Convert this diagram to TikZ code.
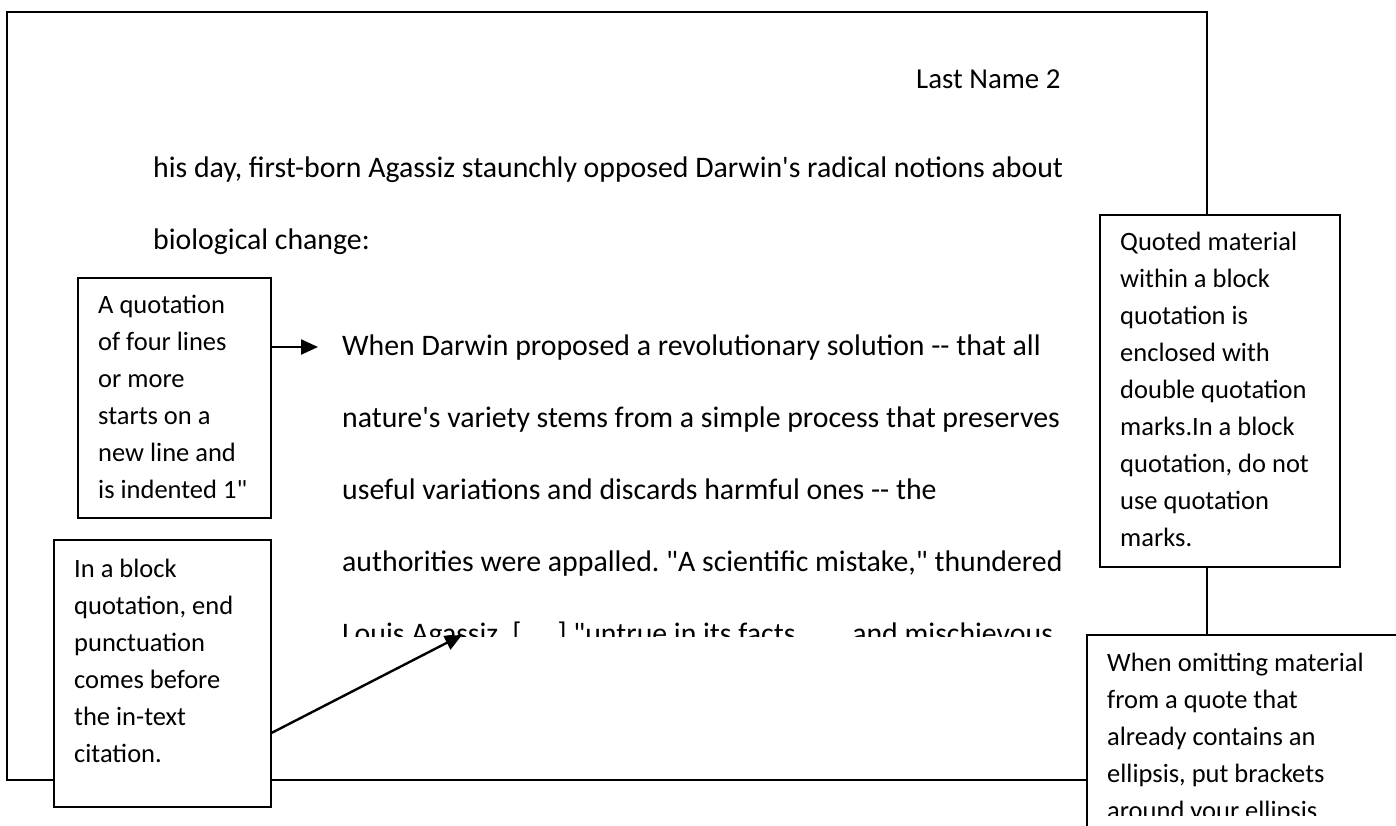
\documentclass[tikz,border=0pt]{standalone}
\usepackage{fontspec}
\setmainfont{Carlito}[Ligatures=TeXOff]
\usetikzlibrary{arrows.meta,positioning}
\frenchspacing

\newcommand{\headsize}{\fontsize{28.9pt}{72pt}\selectfont}
\newcommand{\bodysize}{\fontsize{29.8pt}{72pt}\selectfont}
\newcommand{\notesize}{\fontsize{26.5pt}{37pt}\selectfont}

\tikzset{
  sheet/.style={draw, line width=2pt, anchor=north west, inner sep=0pt},
  notebox/.style={draw, fill=white, line width=1.8pt, anchor=north west, inner sep=0pt},
  notetext/.style={anchor=base west, inner sep=0pt, font=\notesize},
  bodytext/.style={anchor=base west, inner sep=0pt, font=\bodysize},
  pointer/.style={-{Triangle[length=17pt,width=15pt]}, line width=2.4pt}
}

\begin{document}
\begin{tikzpicture}[x=1pt, y=-1pt]
		\useasboundingbox (0,0) rectangle (1396,825);
		\clip (0,0) rectangle (1396,825);

		% Define nodes
		\node[sheet, minimum width=1200pt, minimum height=768pt] (page) at (6,11) {};
		\node[bodytext, font=\headsize] (header) at (916,88) {Last Name 2};
		\node[bodytext] (intro) at (153,177) {\parbox[t]{1000pt}{%
			his day, first-born Agassiz staunchly opposed Darwin's radical notions about\\
			biological change:}};
		\begin{scope}
			\clip (0,0) rectangle (1396,636);
			\node[bodytext] (quote) at (342,355) {\parbox[t]{1000pt}{%
				When Darwin proposed a revolutionary solution -{}- that all\\
				nature's variety stems from a simple process that preserves\\
				useful variations and discards harmful ones -{}- the\\
				authorities were appalled. "A scientific mistake," thundered\\
				Louis Agassiz, [. . .] "untrue in its facts, . . . and mischievous}};
		\end{scope}

		\node[notebox, minimum width=193pt, minimum height=240pt] (indent) at (77,277) {};
		\node[notetext] (indenttxt) at ([xshift=21pt, yshift=-36pt]indent.north west) {\parbox[t]{300pt}{%
			A quotation\\ of four lines\\ or more\\ starts on a\\ new line and\\ is indented 1"}};

		\node[notebox, minimum width=217pt, minimum height=267pt] (punct) at (53,539) {};
		\node[notetext] (puncttxt) at ([xshift=21pt, yshift=-38pt]punct.north west) {\parbox[t]{300pt}{%
			In a block\\ quotation, end\\ punctuation\\ comes before\\ the in-text\\ citation.}};

		\node[notebox, minimum width=240pt, minimum height=352pt] (quoted) at (1099,214) {};
		\node[notetext] (quotedtxt) at ([xshift=21pt, yshift=-36pt]quoted.north west) {\parbox[t]{300pt}{%
			Quoted material\\ within a block\\ quotation is\\ enclosed with\\ double quotation\\
			marks.In a block\\ quotation, do not\\ use quotation\\ marks.}};

		\node[notebox, minimum width=400pt, minimum height=300pt] (omit) at (1086,634) {};
		\begin{scope}
			\clip (0,0) rectangle (1396,815);
			\node[notetext] (omittxt) at ([xshift=21pt, yshift=-37pt]omit.north west) {\parbox[t]{300pt}{%
				When omitting material\\ from a quote that\\ already contains an\\
				ellipsis, put brackets\\ around your ellipsis.}};
		\end{scope}

		\coordinate (tipA) at (318,347);
		\coordinate (tipB) at (462,635);

		% Connect the nodes
		\draw[pointer] ([yshift=-70pt]indent.north east) -- (tipA);
		\draw[pointer] ([yshift=75pt]punct.south east) -- (tipB);
	\end{tikzpicture}
\end{document}
